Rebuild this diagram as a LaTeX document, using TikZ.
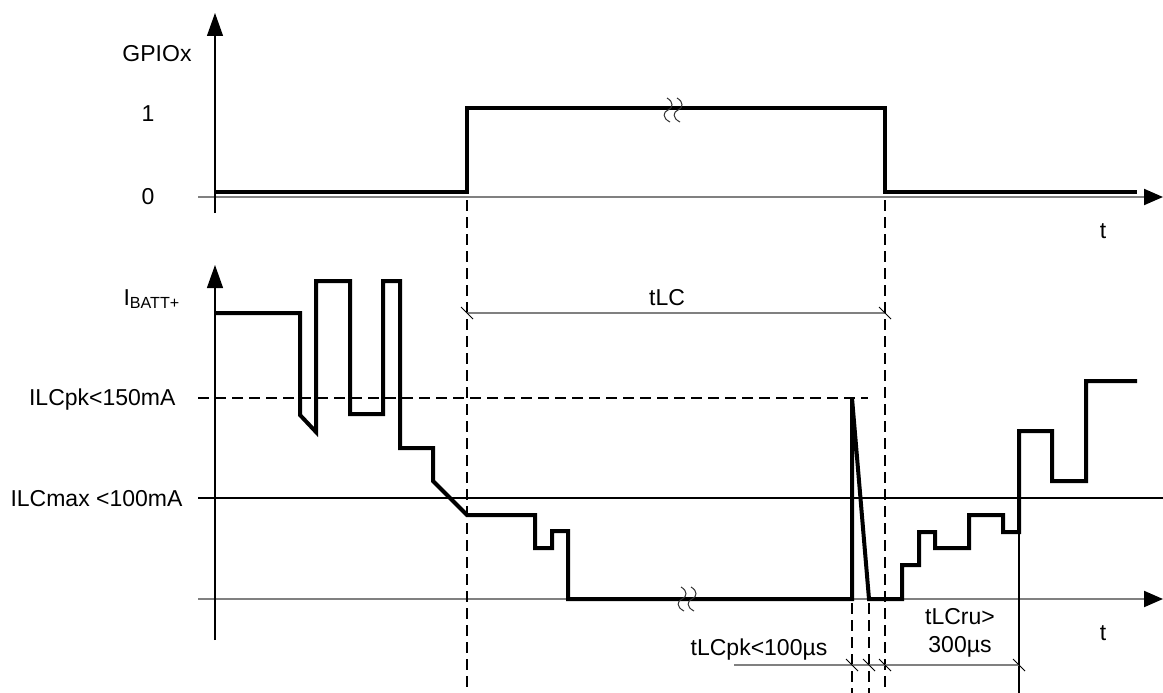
\documentclass[tikz,border=0pt]{standalone}
\usepackage{fontspec}
\setmainfont{Liberation Sans}
\usetikzlibrary{arrows.meta}

\tikzset{
  yaxis/.style={line width=1.2pt, -{Triangle[length=23pt,width=16pt]}},
  taxis/.style={gray, line width=2pt, -{Triangle[length=19pt,width=16pt,black]}},
  signal/.style={line width=4pt},
  guide/.style={line width=2pt, dash pattern=on 11pt off 6pt},
  level/.style={line width=1.2pt},
  dimline/.style={gray, line width=1.5pt},
  dimtick/.style={line width=1pt},
  brk/.style={line width=1pt, black!80},
}

\begin{document}
\begin{tikzpicture}[x=1pt, y=-1pt, font=\fontsize{23}{27}\selectfont]
  \useasboundingbox (0,0) rectangle (1163,693);

  % Define axes
  \draw[taxis] (198,197) -- (1163,197);
  \draw[yaxis] (215,213) -- (215,13);
  \draw[taxis] (198,599) -- (1163,599);
  \draw[yaxis] (215,640) -- (215,265);

  % Define labels
  \node                   (gpio)   at (157,54)  {GPIOx};
  \node                   (one)    at (148,114) {1};
  \node                   (zero)   at (148,197) {0};
  \node[anchor=base]      (t_top)  at (1103,238) {t};
  \node[anchor=base]      (t_bot)  at (1103,640) {t};
  \node[anchor=base west] (ibatt)  at (120,305) {I\textsubscript{BATT+}};
  \node[anchor=base east] (ilcpk)  at (179,405) {ILCpk<150mA};
  \node[anchor=base east] (ilcmax) at (186,506) {ILCmax <100mA};

  % Limits
  \draw[guide] (198,398) -- (868,398);
  \draw[level] (198,498) -- (1163,498);

  % GPIO signal
  \draw[signal] (215,192) -- (467,192) -- (467,108) -- (885,108)
    -- (885,192) -- (1137,192);

  % Battery current
  \draw[signal] (215,313) -- (300,313) -- (300,415) -- (316,432)
    -- (316,281) -- (350,281) -- (350,414) -- (383,414) -- (383,281)
    -- (400,281) -- (400,448) -- (433,448) -- (433,481) -- (467,515)
    -- (535,515) -- (535,548) -- (552,548) -- (552,531) -- (568,531)
    -- (568,599) -- (852,599) -- (852,398) -- (869,599) -- (902,599)
    -- (902,565) -- (919,565) -- (919,532) -- (935,532) -- (935,548)
    -- (969,548) -- (969,515) -- (1003,515) -- (1003,532) -- (1019,532)
    -- (1019,431) -- (1052,431) -- (1052,481) -- (1086,481) -- (1086,381)
    -- (1137,381);

  % Time breaks
  \foreach \bx/\by in {668/110, 678/110, 682/599, 692/599}
    \draw[brk] (\bx-1,\by-12) .. controls (\bx+6,\by-8) and (\bx+5,\by-2) .. (\bx,\by)
      .. controls (\bx-5,\by+2) and (\bx-6,\by+8) .. (\bx+2,\by+12);

  % Guides
  \draw[guide] (467,200) -- (467,693);
  \draw[guide] (885,200) -- (885,693);
  \draw[guide] (852,603) -- (852,693);
  \draw[guide] (869,603) -- (869,693);
  \draw[level] (1019,532) -- (1019,693);

  % Timings
  \draw[dimline] (467,313) -- (885,313);
  \draw[dimline] (734,665) -- (1019,665);
  \foreach \tx/\ty in {467/313, 885/313, 852/665, 869/665, 885/665, 1019/665}
    \draw[dimtick] (\tx,\ty) +(-6,-6) -- +(6,6);
  \node[anchor=base] (tlc)   at (667,305) {tLC};
  \node[anchor=base] (tlcpk) at (759,655) {tLCpk<100µs};
  \node[anchor=base] (tlcru) at (960,624) {tLCru>};
  \node[anchor=base] (tlcru_val) at (960,652) {300µs};

\end{tikzpicture}
\end{document}
